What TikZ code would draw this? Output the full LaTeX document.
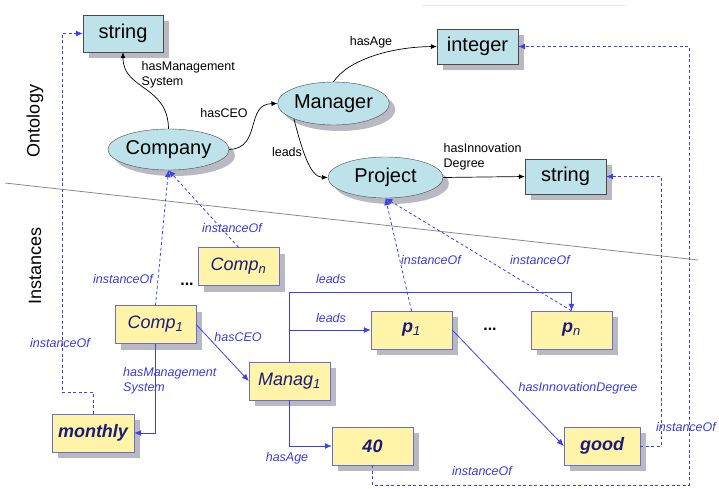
\documentclass[tikz,border=0pt]{standalone}
\usepackage{fontspec}
\setmainfont{Liberation Sans}
\usetikzlibrary{shapes.geometric,shadows,arrows.meta}

\definecolor{ontfill}{HTML}{BEE2EA}
\definecolor{ontline}{HTML}{4A4A4A}
\definecolor{insfill}{HTML}{FFF4A8}
\definecolor{insline}{HTML}{6B6BD6}
\definecolor{instext}{HTML}{1C1C78}
\definecolor{shade}{HTML}{B9B9C1}
\definecolor{relblue}{HTML}{4040E8}
\definecolor{lblblue}{HTML}{3A3AD8}
\definecolor{divider}{HTML}{8A8A8A}

\tikzset{
  shade/.style={drop shadow={shadow xshift=6pt, shadow yshift=-6pt, fill=shade, opacity=1}},
  ontbox/.style={rectangle, draw=ontline, fill=ontfill, shade, inner sep=0pt,
    font=\fontsize{20}{24}\selectfont},
  ontell/.style={ellipse, draw=ontline, fill=ontfill, shade, inner sep=0pt,
    font=\fontsize{20}{24}\selectfont},
  insbox/.style={rectangle, draw=insline, fill=insfill, shade, inner sep=0pt,
    text=instext, minimum width=81pt, minimum height=38pt,
    font=\fontsize{18}{22}\selectfont\itshape},
  insbold/.style={insbox, font=\fontsize{18}{22}\selectfont\bfseries\itshape},
  ontrel/.style={draw=black, line width=0.7pt, -{Latex[length=6pt,width=5pt]}},
  ontlbl/.style={font=\fontsize{12.5}{15}\selectfont, inner sep=0pt},
  insrel/.style={draw=relblue, line width=0.8pt, -{Latex[length=7pt,width=6pt]}},
  insof/.style={draw=relblue, line width=0.8pt, dash pattern=on 3pt off 2.5pt,
    -{Latex[length=7pt,width=6pt]}},
  inslbl/.style={text=lblblue, font=\fontsize{12.5}{15}\selectfont\itshape, inner sep=0pt},
  side/.style={font=\fontsize{18}{22}\selectfont, rotate=90},
}

\begin{document}
\begin{tikzpicture}[x=1pt,y=-1pt]
\useasboundingbox (0,0) rectangle (719,488);

% faint rule at the top edge
\draw[draw=black!8, line width=1pt] (422,5) -- (625,5);

% divider between the two layers
\coordinate (divL) at (5,183);
\coordinate (divR) at (698,260);
\draw[divider, line width=0.8pt] (divL) -- (divR);

% side captions
\node[side] (ontcap) at (35,121) {Ontology};
\node[side] (inscap) at (35,266) {Instances};

% ---------- ontology ----------
\node[ontbox, minimum width=80pt, minimum height=37pt] (strL) at (123,33.5) {string};
\node[ontbox, minimum width=81pt, minimum height=35pt] (integer) at (477.5,46.5) {integer};
\node[ontell, minimum width=101pt, minimum height=43pt] (manager) at (333.5,103.5) {Manager};
\node[ontell, minimum width=117pt, minimum height=41pt] (company) at (168.5,149.5) {Company};
\node[ontell, minimum width=115pt, minimum height=41pt] (project) at (385.5,177.5) {Project};
\node[ontbox, minimum width=81pt, minimum height=35pt] (strR) at (565.5,176.5) {string};

\draw[ontrel] (company.north) .. controls (168,85) and (123,90) .. (strL.south);
\draw[ontrel] (company.east) .. controls (262,148) and (245,104) .. (manager.west);
\draw[ontrel] (manager.north) .. controls (348,60) and (390,47) .. (integer.west);
\draw[ontrel] (manager.south west) .. controls (302,150) and (310,177) .. (project.west);
\draw[ontrel] (project.east) -- (strR.west);

\node[ontlbl] (lAge) at (371,42) {hasAge};
\node[ontlbl, anchor=north west, align=left] (lMS) at (141.5,61) {hasManagement\\System};
\node[ontlbl] (lCEO) at (224,113) {hasCEO};
\node[ontlbl] (lLeads) at (287,152) {leads};
\node[ontlbl, anchor=north west, align=left] (lInno) at (443.5,143) {hasInnovation\\Degree};

% ---------- instances ----------
\node[insbox] (compn) at (238.5,266.5) {Comp\textsubscript{\fontsize{13}{15}\selectfont n}};
\node[insbox] (comp1) at (155.5,324.5) {Comp\textsubscript{\fontsize{13}{15}\selectfont 1}};
\node[insbox] (manag1) at (289.5,381) {Manag\textsubscript{\fontsize{13}{15}\selectfont 1}};
\node[insbold, minimum width=82pt] (monthly) at (93,433) {monthly};
\node[insbold] (v40) at (372.5,446) {40};
\node[insbold] (p1) at (411.5,330) {p\textsubscript{\fontsize{13}{15}\selectfont\mdseries 1}};
\node[insbold] (pn) at (571.5,330) {p\textsubscript{\fontsize{13}{15}\selectfont\mdseries n}};
\node[insbold, minimum width=76pt] (good) at (602,446) {good};

\node[font=\fontsize{16}{18}\selectfont\bfseries, text=black] (dotsA) at (187,284) {...};
\node[font=\fontsize{16}{18}\selectfont\bfseries, text=black] (dotsB) at (490,329) {...};

% relations between instances
\coordinate (leadTop) at (289.5,292);
\draw[insrel] (comp1.east) -- (manag1.west);
\draw[insrel] (comp1.south) |- (monthly.east);
\draw[insrel] (manag1.north) -- (leadTop) -| (pn.north);
\draw[insrel] (manag1.north |- p1.west) -- (p1.west);
\draw[insrel] (manag1.south) |- (v40.west);
\draw[insrel] (p1.east) -- (good.west);

% instanceOf links
\coordinate (mBend) at (62,392);
\coordinate (gBend) at (661,446);
\coordinate (fBend) at (689,485);
\draw[insof] (comp1.north) -- (company.south);
\draw[insof] (compn.north) -- (company.south);
\draw[insof] (p1.north) -- (project.south);
\draw[insof] (pn.north) -- (project.south);
\draw[insof] (monthly.north) |- (mBend) |- (strL.west);
\draw[insof] (good.east) -- (gBend) |- (strR.east);
\draw[insof] (v40.south) |- (fBend) |- (integer.east);

% labels
\node[inslbl] (iComp1) at (123,279) {instanceOf};
\node[inslbl] (iCompn) at (232,228) {instanceOf};
\node[inslbl] (iMonthly) at (60,343) {instanceOf};
\node[inslbl] (iP1) at (431,260) {instanceOf};
\node[inslbl] (iPn) at (540,260) {instanceOf};
\node[inslbl] (iGood) at (686,427) {instanceOf};
\node[inslbl] (i40) at (482,471) {instanceOf};
\node[inslbl] (rLeads1) at (331,279) {leads};
\node[inslbl] (rLeads2) at (331,318) {leads};
\node[inslbl] (rCEO) at (238,337) {hasCEO};
\node[inslbl, anchor=north west, align=left] (rMS) at (123,367) {hasManagement\\System};
\node[inslbl] (rAge) at (287,458) {hasAge};
\node[inslbl] (rInno) at (578,388) {hasInnovationDegree};
\end{tikzpicture}
\end{document}
